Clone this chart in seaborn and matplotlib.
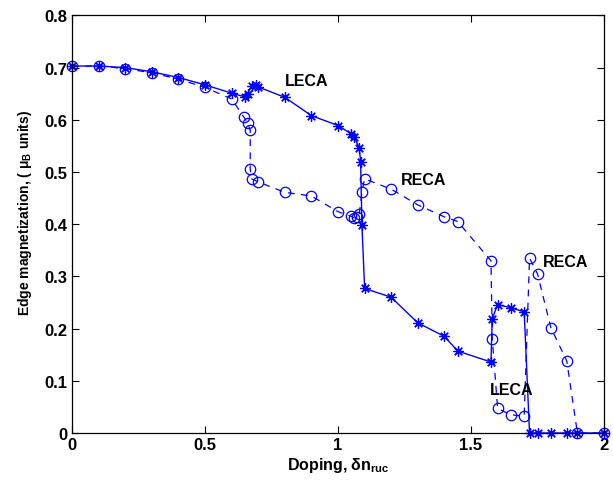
import matplotlib
matplotlib.use("Agg")
import matplotlib.pyplot as plt
import seaborn as sns
import pandas as pd

# ---- data ----
leca_x = [0, 0.1, 0.2, 0.3, 0.4, 0.5, 0.6, 0.65, 0.66, 0.675, 0.69, 0.70, 0.8, 0.9, 1.0,
          1.05, 1.06, 1.08, 1.085, 1.09, 1.10, 1.2, 1.3, 1.4, 1.45, 1.575, 1.58, 1.6,
          1.65, 1.70, 1.72, 1.75, 1.8, 1.86, 1.9, 2.0]
leca_y = [0.703, 0.703, 0.700, 0.692, 0.681, 0.667, 0.651, 0.644, 0.650, 0.665, 0.666, 0.663,
          0.643, 0.608, 0.589, 0.573, 0.568, 0.546, 0.520, 0.398, 0.277, 0.260, 0.211,
          0.185, 0.157, 0.136, 0.219, 0.246, 0.240, 0.232, 0, 0, 0, 0, 0, 0]

reca_x = [0, 0.1, 0.2, 0.3, 0.4, 0.5, 0.6, 0.645, 0.66, 0.67, 0.67, 0.675, 0.70, 0.8, 0.9,
          1.0, 1.05, 1.06, 1.07, 1.08, 1.09, 1.10, 1.2, 1.3, 1.4, 1.45, 1.575, 1.58, 1.6,
          1.65, 1.70, 1.72, 1.75, 1.8, 1.86, 1.9, 2.0]
reca_y = [0.703, 0.703, 0.698, 0.690, 0.678, 0.662, 0.640, 0.606, 0.594, 0.580, 0.505, 0.487,
          0.481, 0.461, 0.454, 0.424, 0.415, 0.412, 0.414, 0.419, 0.462, 0.487, 0.467,
          0.437, 0.414, 0.405, 0.330, 0.181, 0.047, 0.035, 0.032, 0.335, 0.305, 0.202,
          0.138, 0, 0]

x_ticks = [0, 0.5, 1, 1.5, 2]
y_ticks = [0, 0.1, 0.2, 0.3, 0.4, 0.5, 0.6, 0.7, 0.8]

labels = [("LECA", 0.80, 0.660), ("RECA", 1.237, 0.471),
          ("RECA", 1.771, 0.314), ("LECA", 1.571, 0.069)]

sns.set_style("ticks")
plt.rcParams["font.family"] = ["Liberation Sans", "DejaVu Sans"]
plt.rcParams["font.weight"] = "bold"
plt.rcParams["mathtext.fontset"] = "custom"
plt.rcParams["mathtext.rm"] = "Liberation Sans:bold"
plt.rcParams["mathtext.it"] = "Liberation Sans:bold"
plt.rcParams["mathtext.bf"] = "Liberation Sans:bold"
plt.rcParams["mathtext.default"] = "rm"
plt.rcParams["xtick.direction"] = "in"
plt.rcParams["ytick.direction"] = "in"
for key in ["text.color", "axes.labelcolor", "xtick.color", "ytick.color",
            "axes.edgecolor", "xtick.labelcolor", "ytick.labelcolor"]:
    plt.rcParams[key] = "black"

fig = plt.figure(figsize=(6.13, 4.85), dpi=100)
ax = fig.add_axes([72 / 613, 51 / 485, 532 / 613, 417.6 / 485])

df_l = pd.DataFrame({"x": leca_x, "y": leca_y})
df_r = pd.DataFrame({"x": reca_x, "y": reca_y})

blue = (0, 0, 1)
sns.lineplot(data=df_r, x="x", y="y", sort=False, estimator=None, ax=ax,
             color=blue, linestyle=(0, (5.5, 5)), linewidth=0.9,
             marker="o", markersize=7.5, markerfacecolor="none",
             markeredgecolor=blue, markeredgewidth=0.9, clip_on=False)
sns.lineplot(data=df_l, x="x", y="y", sort=False, estimator=None, ax=ax,
             color=blue, linestyle="-", linewidth=1.0,
             marker=(8, 2, 0), markersize=7.5, markeredgecolor=blue,
             markeredgewidth=0.9, clip_on=False)

for txt, tx, ty in labels:
    ax.text(tx, ty, txt, fontsize=11.5, fontweight="bold", ha="left", va="bottom",
            color="black")

ax.set_xlim(0, 2)
ax.set_ylim(0, 0.8)
ax.set_xticks(x_ticks)
ax.set_xticklabels([f"{v:g}" for v in x_ticks])
ax.set_yticks(y_ticks)
ax.set_yticklabels([f"{v:g}" for v in y_ticks])
ax.tick_params(axis="both", which="both", top=True, right=True, length=5,
               width=0.8, labelsize=12, pad=3, colors="black")
for lab in ax.get_xticklabels() + ax.get_yticklabels():
    lab.set_fontweight("bold")
for sp in ax.spines.values():
    sp.set_linewidth(0.9)
    sp.set_color("black")
    sp.set_visible(True)

ax.set_xlabel("Doping, δn$_{ruc}$", fontsize=11.5, fontweight="bold", labelpad=2,
              color="black")
ax.set_ylabel("Edge magnetization, ( μ$_B$ units)", fontsize=10, fontweight="bold",
              labelpad=6, color="black")
ax.yaxis.set_label_coords(-0.072, 0.53)

fig.savefig("out.png", dpi=100)
